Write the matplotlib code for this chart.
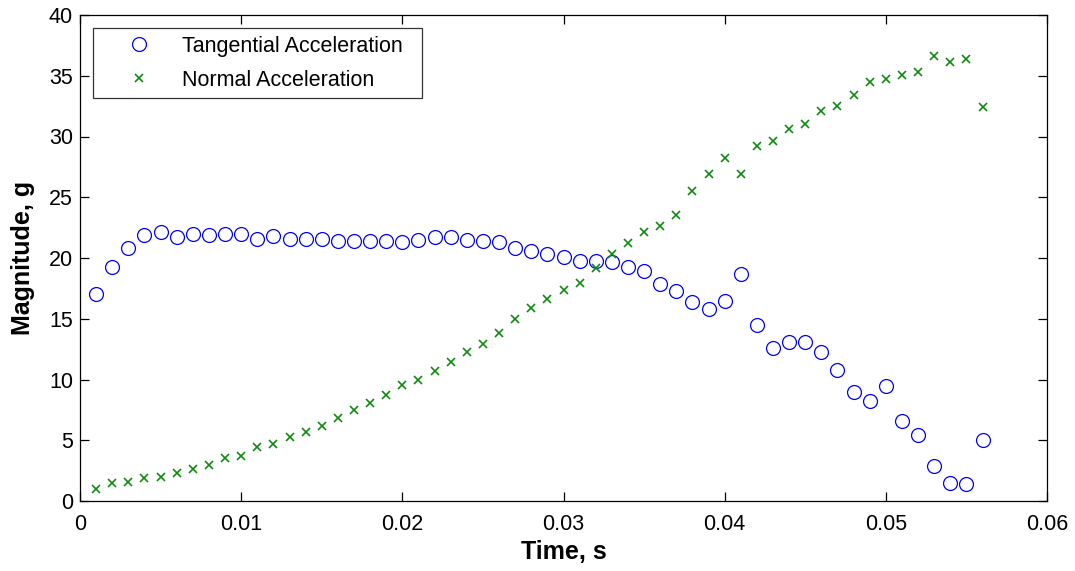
import numpy as np
import matplotlib
matplotlib.use("Agg")
import matplotlib.pyplot as plt

plt.rcParams["font.family"] = ["Liberation Sans", "DejaVu Sans"]

# sample times (s)
time_s = np.arange(1, 57) * 0.001

# tangential acceleration magnitude (g)
tangential = [
    17.0, 19.3, 20.8, 21.9, 22.1, 21.7, 22.0, 21.9, 22.0, 22.0,
    21.6, 21.8, 21.6, 21.6, 21.6, 21.4, 21.4, 21.4, 21.4, 21.3,
    21.5, 21.7, 21.7, 21.5, 21.4, 21.3, 20.85, 20.6, 20.3, 20.1,
    19.75, 19.75, 19.7, 19.3, 18.9, 17.9, 17.3, 16.35, 15.8, 16.5,
    18.7, 14.5, 12.6, 13.1, 13.1, 12.3, 10.75, 8.95, 8.2, 9.5,
    6.55, 5.4, 2.9, 1.5, 1.4, 5.0,
]

# normal acceleration magnitude (g)
normal = [
    0.96, 1.45, 1.6, 1.87, 2.0, 2.28, 2.6, 3.0, 3.56, 3.68,
    4.44, 4.7, 5.24, 5.68, 6.2, 6.8, 7.5, 8.04, 8.7, 9.57,
    10.0, 10.7, 11.4, 12.26, 12.95, 13.8, 15.0, 15.86, 16.6, 17.4,
    17.97, 19.15, 20.33, 21.2, 22.1, 22.6, 23.5, 25.5, 26.9, 28.2,
    26.9, 29.2, 29.6, 30.6, 31.0, 32.1, 32.5, 33.4, 34.5, 34.75,
    35.06, 35.3, 36.6, 36.15, 36.4, 32.4,
]

fig = plt.figure(figsize=(10.75, 5.71), dpi=100)
ax = fig.add_axes([80 / 1075, 70 / 571, 967 / 1075, 486 / 571])

ax.plot(time_s, tangential, linestyle="none", marker="o", markersize=10,
        markerfacecolor="none", markeredgecolor="#0000ff", markeredgewidth=0.9,
        label="Tangential Acceleration  ")
ax.plot(time_s, normal, linestyle="none", marker="x", markersize=6,
        color="#108a10", markeredgewidth=1.2, label="Normal Acceleration")

ax.set_xlim(0, 0.06)
ax.set_ylim(0, 40)
ax.set_xticks(np.arange(0, 0.061, 0.01))
ax.set_xticklabels(["0", "0.01", "0.02", "0.03", "0.04", "0.05", "0.06"])
ax.set_yticks(np.arange(0, 41, 5))

ax.tick_params(direction="in", length=6.5, width=0.9, top=True, right=True,
               labelsize=15.5, pad=5)
ax.tick_params(axis="x", pad=9)
for sp in ax.spines.values():
    sp.set_linewidth(0.9)

ax.set_xlabel("Time, s", fontsize=18, fontweight="bold", labelpad=4)
ax.set_ylabel("Magnitude, g", fontsize=18, fontweight="bold", labelpad=10)

leg = ax.legend(loc="upper left", bbox_to_anchor=(13 / 967, 473 / 486),
                borderaxespad=0, fontsize=15.5, frameon=True, fancybox=False,
                borderpad=0.35, handlelength=3.6, handletextpad=0.18,
                labelspacing=0.62)
leg.get_frame().set_edgecolor("black")
leg.get_frame().set_linewidth(0.9)

fig.savefig("out.png", dpi=100)
